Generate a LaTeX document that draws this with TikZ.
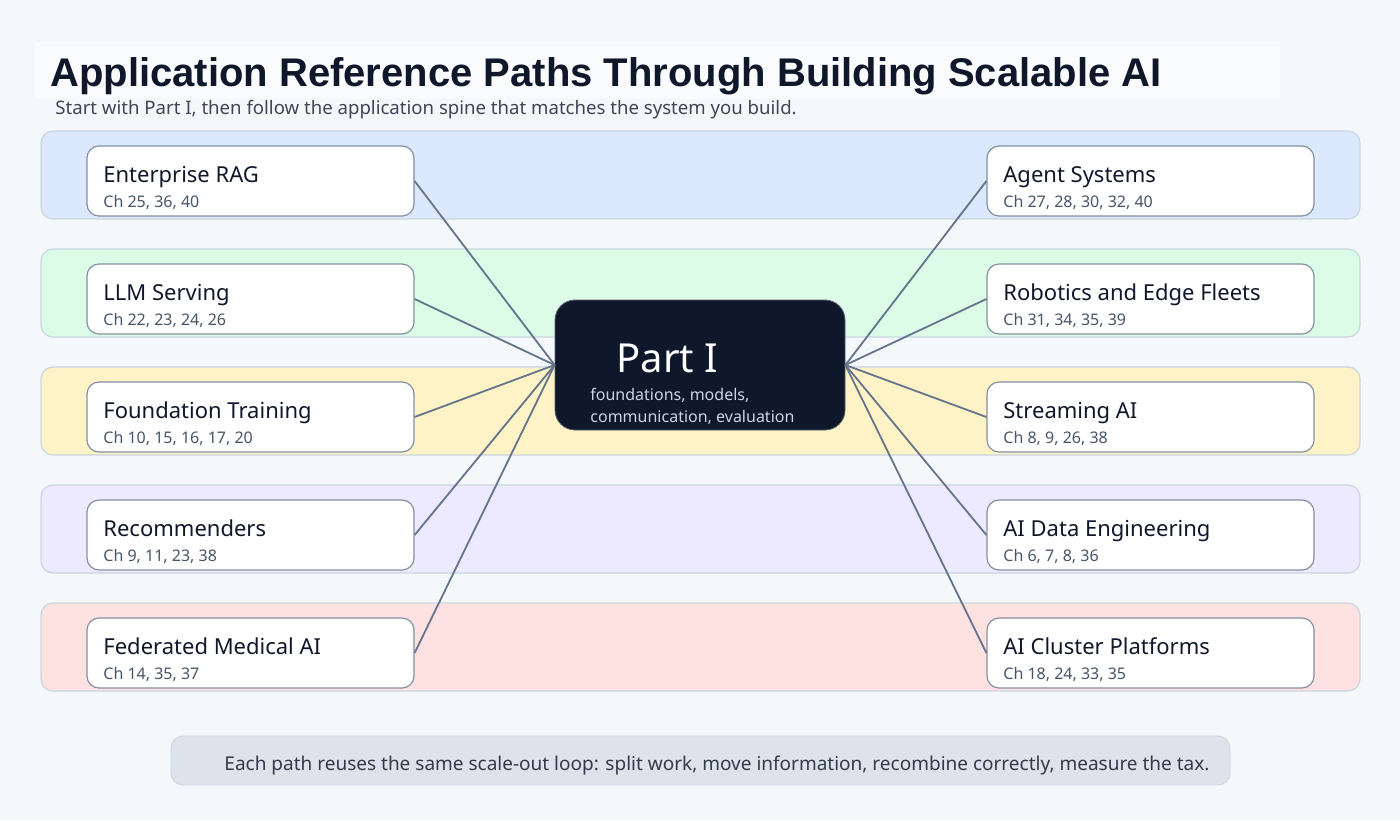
\documentclass[tikz,border=0pt]{standalone}
\usepackage{fontspec}
\setmainfont{Noto Sans}
\newfontfamily\titlefont{Liberation Sans}
\definecolor{bgc}{HTML}{F5F8FB}
\definecolor{ink}{HTML}{0F172A}
\definecolor{slate}{HTML}{475569}
\definecolor{linec}{HTML}{64748B}
\definecolor{bordc}{HTML}{CBD5E1}
\definecolor{bandA}{HTML}{DBE8FD}
\definecolor{bandB}{HTML}{DCFCE7}
\definecolor{bandC}{HTML}{FEF3C7}
\definecolor{bandD}{HTML}{EDE9FE}
\definecolor{bandE}{HTML}{FEE2E2}
\begin{document}
\begin{tikzpicture}[x=0.5pt,y=-0.5pt,
  band/.style={draw=bordc,line width=0.6pt,rounded corners=6pt},
  card/.style={draw=linec!80,fill=white,line width=0.6pt,rounded corners=6pt,minimum width=163.5pt,minimum height=35pt,inner sep=0pt},
  ctitle/.style={anchor=base west,font=\bfseries\fontsize{11}{13}\selectfont,text=ink,inner sep=0pt},
  csub/.style={anchor=base west,font=\fontsize{8}{10}\selectfont,text=slate,inner sep=0pt},
  conn/.style={draw=linec,line width=0.9pt}]
\fill[bgc] (0,0) rectangle (1400,820);
\useasboundingbox (0,0) rectangle (1400,820);
\fill[white!50!bgc] (35,42) rectangle (1280,98);
\node[anchor=base west,inner sep=0pt,font=\titlefont\bfseries\fontsize{20}{24}\selectfont,text=ink] (T) at (50,86) {Application Reference Paths Through Building Scalable AI};
\node[anchor=base west,inner sep=0pt,font=\fontsize{9.3}{11}\selectfont,text=ink!80] (S) at (55,114) {Start with Part I, then follow the application spine that matches the system you build.};
\foreach \y/\c in {131/bandA,249/bandB,367/bandC,485/bandD,603/bandE}
  \filldraw[band,fill=\c] (41,\y) rectangle (1360,\y+88);
\node[fill=ink,draw=ink!70,rounded corners=10pt,minimum width=145pt,minimum height=65pt,inner sep=0pt] (P) at (700,365) {};
\node[anchor=base west,inner sep=0pt,font=\bfseries\fontsize{20}{24}\selectfont,text=white] at (616,372) {Part I};
\node[anchor=base west,inner sep=0pt,font=\fontsize{8}{10}\selectfont,text=bordc] at (590,400) {foundations, models,};
\node[anchor=base west,inner sep=0pt,font=\fontsize{8}{10}\selectfont,text=bordc] at (590,422) {communication, evaluation};
\foreach \n/\y/\t/\s in {L1/181/Enterprise RAG/{Ch 25, 36, 40},L2/299/LLM Serving/{Ch 22, 23, 24, 26},L3/417/Foundation Training/{Ch 10, 15, 16, 17, 20},L4/535/Recommenders/{Ch 9, 11, 23, 38},L5/653/Federated Medical AI/{Ch 14, 35, 37}}{
  \node[card] (\n) at (250.5,\y) {};
  \node[ctitle] at (103,\y+1) {\t};
  \node[csub] at (103,\y+26) {\s};
  \draw[conn] (\n.east) -- (P.west);
}
\foreach \n/\y/\t/\s in {R1/181/Agent Systems/{Ch 27, 28, 30, 32, 40},R2/299/Robotics and Edge Fleets/{Ch 31, 34, 35, 39},R3/417/Streaming AI/{Ch 8, 9, 26, 38},R4/535/AI Data Engineering/{Ch 6, 7, 8, 36},R5/653/AI Cluster Platforms/{Ch 18, 24, 33, 35}}{
  \node[card] (\n) at (1150.5,\y) {};
  \node[ctitle] at (1003,\y+1) {\t};
  \node[csub] at (1003,\y+26) {\s};
  \draw[conn] (\n.west) -- (P.east);
}
\node[fill=bordc!60!bgc,draw=bordc,rounded corners=6pt,minimum width=529.5pt,minimum height=24.5pt,inner sep=0pt] (F) at (700.5,760.5) {};
\node[anchor=base,inner sep=0pt,font=\fontsize{9.5}{11}\selectfont,text=ink!85] at (717,770) {Each path reuses the same scale-out loop: split work, move information, recombine correctly, measure the tax.};
\end{tikzpicture}
\end{document}
